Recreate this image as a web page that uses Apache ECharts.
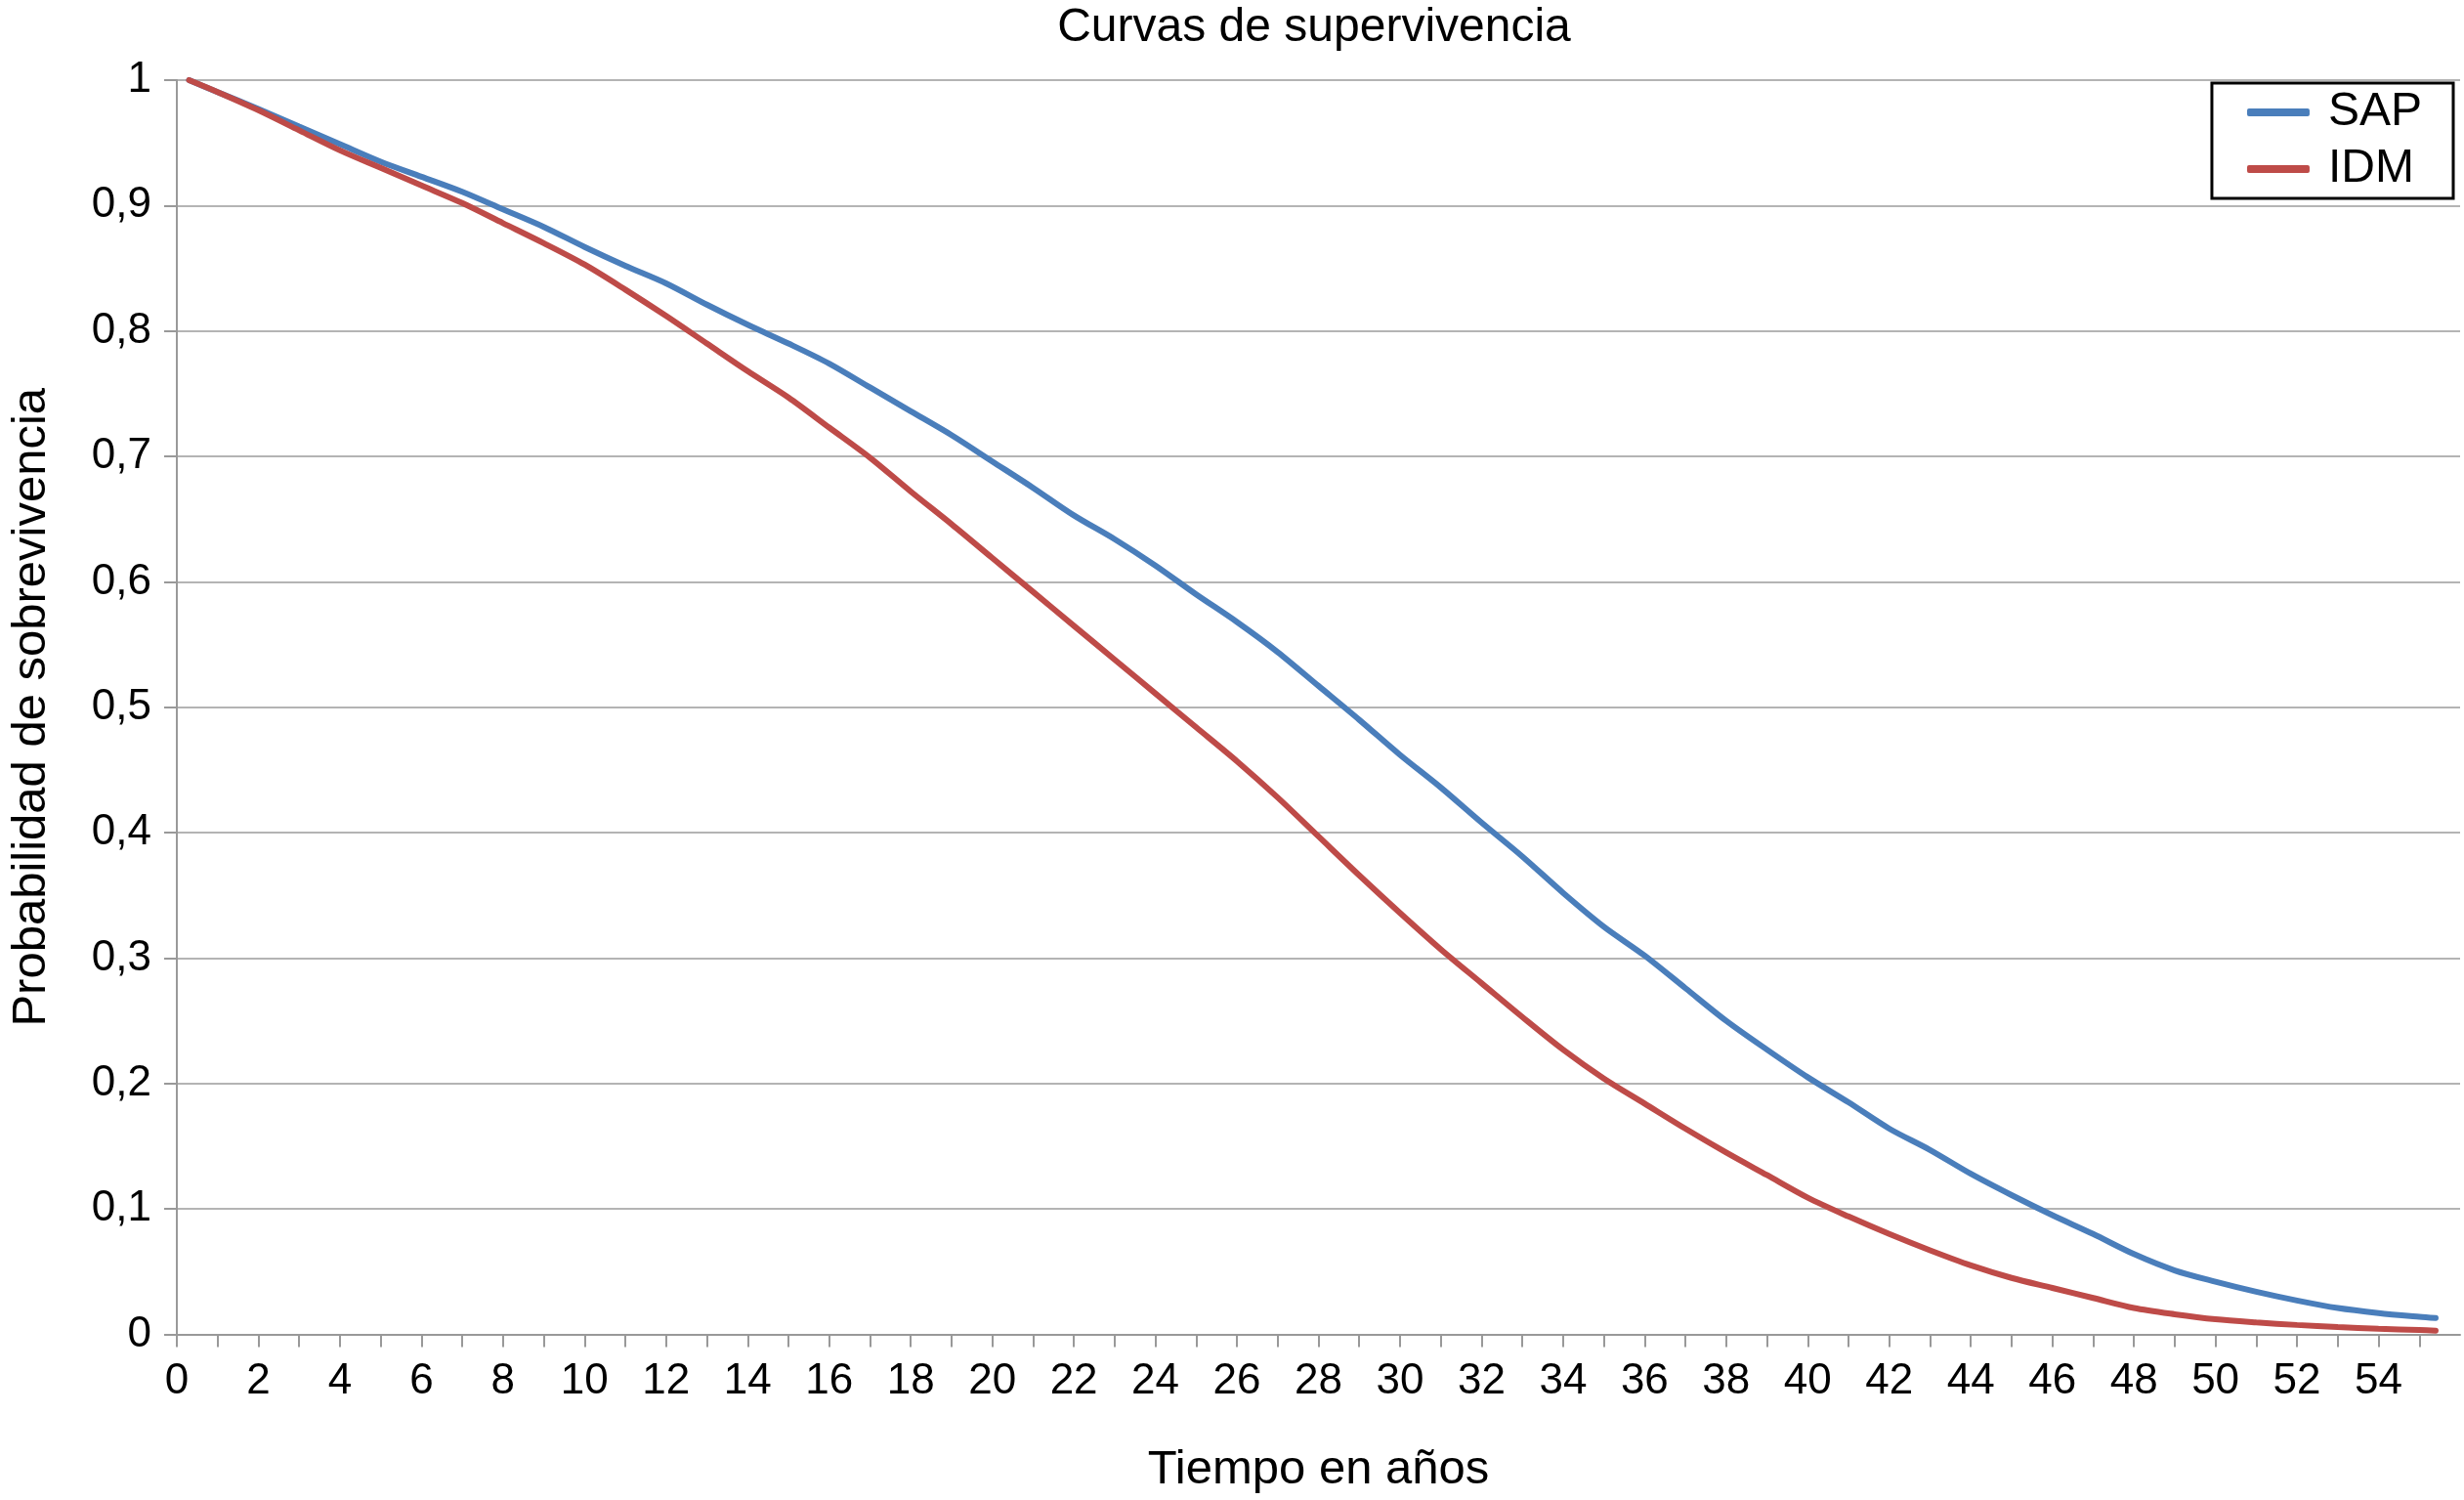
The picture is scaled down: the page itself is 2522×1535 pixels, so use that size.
<!DOCTYPE html>
<html>
<head>
<meta charset="utf-8">
<script src="https://cdn.jsdelivr.net/npm/echarts@6/dist/echarts.min.js"></script>
<style>
html,body{margin:0;padding:0;background:#fff;}
#chart{width:2522px;height:1535px;}
</style>
</head>
<body>
<div id="chart"></div>
<script>
const chartTitle = 'Curvas de supervivencia';
const xAxisTitle = 'Tiempo en años';
const yAxisTitle = 'Probabilidad de sobrevivencia';
const seriesNames = ['SAP', 'IDM'];

const years = [0.3, 1, 2, 3, 4, 5, 6, 7, 8, 9, 10, 11, 12, 13, 14, 15, 16, 17, 18, 19, 20,
  21, 22, 23, 24, 25, 26, 27, 28, 29, 30, 31, 32, 33, 34, 35, 36, 37, 38, 39, 40,
  41, 42, 43, 44, 45, 46, 47, 48, 49, 50, 51, 52, 53, 54, 55, 55.4];

const sapValues = [1.0, 0.9905, 0.977, 0.963, 0.949, 0.935, 0.923, 0.911, 0.897, 0.883, 0.867,
  0.852, 0.838, 0.821, 0.805, 0.79, 0.774, 0.755, 0.736, 0.717, 0.696,
  0.675, 0.653, 0.634, 0.613, 0.59, 0.568, 0.544, 0.517, 0.49, 0.462,
  0.436, 0.408, 0.381, 0.352, 0.325, 0.302, 0.276, 0.25, 0.227, 0.205,
  0.185, 0.164, 0.147, 0.128, 0.111, 0.095, 0.08, 0.064, 0.051, 0.042,
  0.034, 0.027, 0.021, 0.017, 0.014, 0.013];

const idmValues = [1.0, 0.9905, 0.976, 0.96, 0.944, 0.93, 0.916, 0.902, 0.886, 0.87, 0.853,
  0.833, 0.812, 0.79, 0.768, 0.747, 0.723, 0.699, 0.672, 0.646, 0.619,
  0.592, 0.565, 0.538, 0.511, 0.484, 0.457, 0.428, 0.397, 0.366, 0.336,
  0.307, 0.28, 0.253, 0.227, 0.204, 0.184, 0.164, 0.145, 0.127, 0.109,
  0.094, 0.08, 0.067, 0.055, 0.045, 0.037, 0.029, 0.021, 0.016, 0.012,
  0.0095, 0.0075, 0.0058, 0.0045, 0.0035, 0.003];

const xMin = 0, xMax = 56, xStep = 1, xLabelEvery = 2, xLabelLast = 54;
const yMin = 0, yMax = 1, yStep = 0.1;

const colors = ['#4A7EBB', '#BE4B48'];
const FONT = '"Liberation Sans", Arial, Helvetica, sans-serif';

function pairs(xs, ys) { return xs.map((x, i) => [x, ys[i]]); }

const chart = echarts.init(document.getElementById('chart'));
chart.setOption({
  backgroundColor: '#ffffff',
  animation: false,
  textStyle: { fontFamily: FONT, color: '#000' },
  title: {
    text: chartTitle,
    left: 1340,
    textAlign: 'center',
    top: 0,
    textStyle: { fontFamily: FONT, fontSize: 48, fontWeight: 'normal', color: '#000' }
  },
  legend: {
    orient: 'vertical',
    right: 11,
    top: 85,
    data: seriesNames,
    icon: 'roundRect',
    itemWidth: 64,
    itemHeight: 8,
    itemGap: 6,
    padding: [4, 32, 4, 36],
    borderColor: '#000',
    borderWidth: 3,
    textStyle: { fontFamily: FONT, fontSize: 48, color: '#000', lineHeight: 52, padding: [0, 0, 0, 14] }
  },
  grid: { left: 174, right: 4, top: 82, bottom: 169.5, containLabel: false },
  xAxis: {
    type: 'value',
    min: xMin, max: xMax, interval: xStep,
    name: xAxisTitle,
    nameLocation: 'middle',
    nameGap: 114,
    nameTextStyle: { fontFamily: FONT, fontSize: 49, color: '#000' },
    axisLine: { show: true, onZero: false, lineStyle: { color: '#999', width: 2 } },
    axisTick: { show: true, inside: false, length: 13, lineStyle: { color: '#999', width: 2 } },
    splitLine: { show: false },
    axisLabel: {
      fontFamily: FONT, fontSize: 44, color: '#000', margin: 26,
      showMaxLabel: false,
      formatter: v => (Math.round(v) % xLabelEvery === 0 && v <= xLabelLast) ? String(Math.round(v)) : ''
    }
  },
  yAxis: {
    type: 'value',
    min: yMin, max: yMax, interval: yStep,
    name: yAxisTitle,
    nameLocation: 'middle',
    nameGap: 124,
    nameRotate: 90,
    nameTextStyle: { fontFamily: FONT, fontSize: 49, color: '#000' },
    axisLine: { show: true, lineStyle: { color: '#999', width: 2 } },
    axisTick: { show: true, length: 13, lineStyle: { color: '#999', width: 2 } },
    splitLine: { show: true, lineStyle: { color: '#b4b4b4', width: 2 } },
    axisLabel: {
      fontFamily: FONT, fontSize: 44, color: '#000', margin: 26,
      formatter: v => String(Math.round(v * 10) / 10).replace('.', ',')
    }
  },
  series: [
    {
      name: seriesNames[0], type: 'line', data: pairs(years, sapValues),
      showSymbol: false, smooth: 0.3, color: colors[0],
      lineStyle: { color: colors[0], width: 6, cap: 'round' }, z: 3
    },
    {
      name: seriesNames[1], type: 'line', data: pairs(years, idmValues),
      showSymbol: false, smooth: 0.3, color: colors[1],
      lineStyle: { color: colors[1], width: 6, cap: 'round' }, z: 4
    }
  ]
});
</script>
</body>
</html>
